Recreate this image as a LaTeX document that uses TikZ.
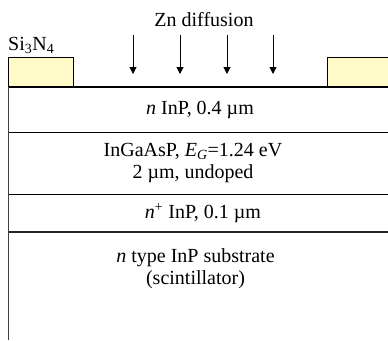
\documentclass[tikz,border=0pt]{standalone}
\usepackage{fontspec}
\setmainfont{Liberation Serif}
\usepackage{xcolor}
\usetikzlibrary{arrows.meta,positioning}
\definecolor{padfill}{RGB}{255,250,200}

\begin{document}
\begin{tikzpicture}[x=1pt,y=-1pt,>={Triangle[length=7pt,width=7pt]},
  pad/.style={draw=black,line width=1pt,fill=padfill},
  lyr/.style={black,line width=1pt},
  lab/.style={font=\fontsize{20}{22}\selectfont,align=center,inner sep=0pt}]
\useasboundingbox (0,0) rectangle (388,340);
% mask pads
\draw[pad] (8.7,57) rectangle (73,87);
\draw[pad] (327.5,57) rectangle (392,87);
% layer boundaries
\draw[lyr,line width=1.3pt] (8.7,87) -- (388,87);
\draw[lyr] (8.7,132) -- (388,132);
\draw[lyr] (8.7,194.3) -- (388,194.3);
\draw[lyr,line width=1.8pt,black!85] (8.7,231.7) -- (388,231.7);
\draw[black!75,line width=1.5pt] (8.7,86.5) -- (8.7,340);
% labels
\node[lab] (zn) at (204,20) {Zn diffusion};
\node[lab,anchor=base west] (sin) at (8,50) {Si\textsubscript{3}N\textsubscript{4}};
\node[lab] (ninp) at (200,109.5) {\textit{n} InP, 0.4 µm};
\node[lab] (quat) at (193,163) {InGaAsP, \textit{E\textsubscript{G}}=1.24 eV\\2 µm, undoped};
\node[lab] (nplus) at (203,213) {\textit{n}\textsuperscript{+} InP, 0.1 µm};
\node[lab] (sub) at (195.5,269) {\textit{n} type InP substrate\\(scintillator)};
% diffusion arrows
\foreach \x [count=\i] in {133,180,227,273}{
  \coordinate (a\i) at (\x,35);
  \coordinate (b\i) at (\x,74);
  \draw[->,line width=1pt] (a\i) -- (b\i);
}
\end{tikzpicture}
\end{document}
